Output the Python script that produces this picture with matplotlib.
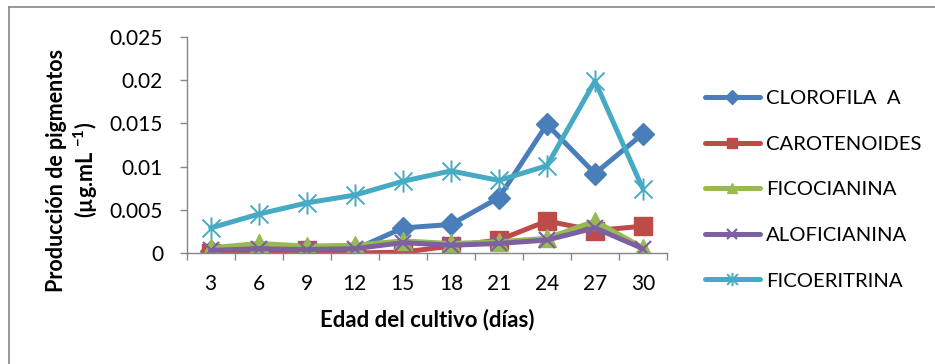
import matplotlib
matplotlib.use("Agg")
import matplotlib.pyplot as plt
from matplotlib.path import Path
from matplotlib.lines import Line2D
import numpy as np

plt.rcParams['font.family'] = ['Lato', 'DejaVu Sans']
plt.rcParams['mathtext.fontset'] = 'custom'
plt.rcParams['mathtext.rm'] = 'Lato'
plt.rcParams['mathtext.bf'] = 'Lato:bold'

# Culture age (days) and pigment production (µg/mL)
dias = ["3", "6", "9", "12", "15", "18", "21", "24", "27", "30"]
clorofila_a = [0.0002, 0.0003, 0.0003, 0.0004, 0.0029, 0.0033, 0.0064, 0.0149, 0.0092, 0.0138]
carotenoides = [0.0000, 0.0001, 0.0004, 0.0000, 0.0001, 0.0008, 0.0015, 0.0037, 0.0026, 0.0031]
ficocianina = [0.0006, 0.0011, 0.0008, 0.0009, 0.0014, 0.0011, 0.0013, 0.0017, 0.0037, 0.0006]
aloficianina = [0.0003, 0.0005, 0.0004, 0.0005, 0.0012, 0.0009, 0.0011, 0.0015, 0.0029, 0.0005]
ficoeritrina = [0.0029, 0.0045, 0.0058, 0.0067, 0.0083, 0.0095, 0.0084, 0.0101, 0.0199, 0.0074]

nombres = ["CLOROFILA  A", "CAROTENOIDES", "FICOCIANINA", "ALOFICIANINA", "FICOERITRINA"]
colores = ["#4A7EBB", "#BE4B48", "#98B954", "#7D60A0", "#46AAC5"]

# asterisk marker: an "x" crossed by a vertical stroke
s = 0.5
star = Path([(-s, -s), (s, s), (-s, s), (s, -s), (0, -0.62), (0, 0.62)],
            [Path.MOVETO, Path.LINETO, Path.MOVETO, Path.LINETO, Path.MOVETO, Path.LINETO])

W, H = 935, 364
fig = plt.figure(figsize=(W / 100, H / 100), dpi=100)
ax = fig.add_axes([186.7 / W, 1 - 253 / H, (667 - 186.7) / W, (253 - 37) / H])

x = np.arange(len(dias))
series = [clorofila_a, carotenoides, ficocianina, aloficianina, ficoeritrina]
estilos = [
    dict(marker='D', ms=11.5, mec=colores[0], mfc=colores[0]),
    dict(marker='s', ms=13, mec=colores[1], mfc=colores[1]),
    dict(marker='^', ms=13, mec=colores[2], mfc=colores[2]),
    dict(marker='x', ms=12, mew=1.6, mec=colores[3]),
    dict(marker=star, ms=16, mew=1.4, mec=colores[4], mfc='none'),
]
for vals, nom, col, est in zip(series, nombres, colores, estilos):
    ax.plot(x, vals, color=col, lw=3.6, label=nom, solid_joinstyle='round',
            solid_capstyle='round', **est)

ax.set_xlim(-0.5, len(dias) - 0.5)
ax.set_ylim(0, 0.025)
ax.set_yticks([0, 0.005, 0.01, 0.015, 0.02, 0.025])
ax.set_yticklabels(["0", "0.005", "0.01", "0.015", "0.02", "0.025"])
ax.set_xticks(x)
ax.set_xticklabels(dias)
ax.set_xticks(np.arange(-0.5, len(dias)), minor=True)

gris = "#868686"
for sp in ['top', 'right']:
    ax.spines[sp].set_visible(False)
for sp in ['left', 'bottom']:
    ax.spines[sp].set_color(gris)
    ax.spines[sp].set_linewidth(1.0)
ax.tick_params(axis='x', which='major', length=0, pad=15, labelsize=15)
ax.tick_params(axis='x', which='minor', length=5, color=gris, width=1.0, direction='out')
ax.tick_params(axis='y', which='major', length=5, color=gris, width=1.0, pad=12, labelsize=15)

ax.set_xlabel("Edad del cultivo (días)", fontsize=16, fontweight='bold', labelpad=11)
fig.text(73 / W, 1 - 170 / H, "Producción de pigmentos\n(µg.mL $^{\\mathbf{-1}}$)",
         rotation=90, ha='center', va='center', multialignment='center',
         fontsize=15.5, fontweight='bold', linespacing=1.25)

handles = [Line2D([0], [0], color=c, lw=3.6, solid_capstyle='round',
                  **{k: v for k, v in e.items() if k != 'ms'},
                  ms=e['ms'] * 0.6) for c, e in zip(colores, estilos)]
ax.legend(handles, nombres, loc='upper left', bbox_to_anchor=(705 / W, 1 - 90 / H),
          bbox_transform=fig.transFigure, frameon=False, fontsize=14.6,
          handlelength=2.7, handletextpad=0.3, labelspacing=1.4, borderpad=0,
          borderaxespad=0)

# outer frame (top and left edges)
fig.add_artist(Line2D([9 / W, 1], [1 - 7 / H, 1 - 7 / H], color=gris, lw=1.2,
                      transform=fig.transFigure))
fig.add_artist(Line2D([9 / W, 9 / W], [0, 1 - 7 / H], color=gris, lw=1.2,
                      transform=fig.transFigure))

fig.savefig("out.png", dpi=100)
